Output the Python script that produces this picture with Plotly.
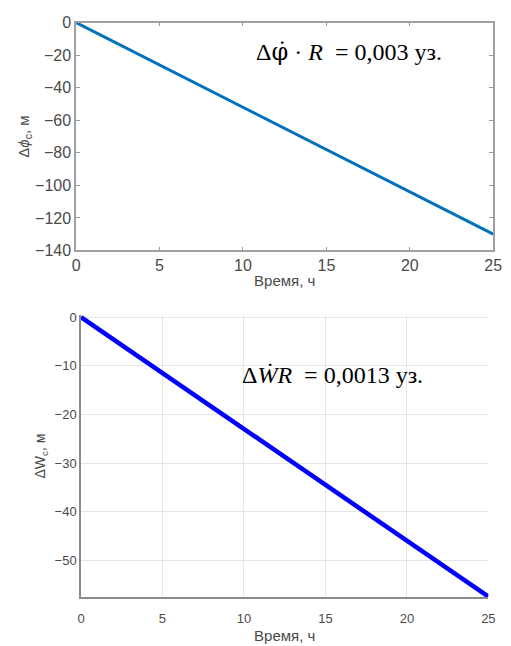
import plotly.graph_objects as go

# Time axis, hours
hours = [0, 25]
# Position error from the latitude-rate error, metres
dphi_m = [0, -130]
# Position error from the W-rate error, metres
dw_m = [0, -57.4]

top_ticks = [0, -20, -40, -60, -80, -100, -120, -140]
bot_ticks = [0, -10, -20, -30, -40, -50]
x_ticks = [0, 5, 10, 15, 20, 25]

W, H = 511, 646

def px_x(a, b):
    return [a / W, b / W]

def px_y(top, bottom):
    return [1 - bottom / H, 1 - top / H]

fig = go.Figure()
fig.add_trace(go.Scatter(x=hours, y=dphi_m, mode="lines",
                         line=dict(color="#0072BD", width=3),
                         xaxis="x", yaxis="y", showlegend=False))
fig.add_trace(go.Scatter(x=hours, y=dw_m, mode="lines",
                         line=dict(color="#0000FF", width=4.5),
                         xaxis="x2", yaxis="y2", showlegend=False))

sans = "Liberation Sans, Arial, sans-serif"
serif = "Liberation Serif, Times New Roman, serif"
tick_col = "#4a4a4a"

fig.update_layout(
    width=W, height=H,
    margin=dict(l=0, r=0, t=0, b=0),
    plot_bgcolor="white", paper_bgcolor="white",
    font=dict(family=sans, color=tick_col),
    xaxis=dict(domain=px_x(74, 502), anchor="y", range=[0, 25],
               tickvals=x_ticks, ticks="inside", ticklen=4, tickcolor="#999",
               showline=True, linecolor="#a0a0a0", linewidth=1.5, mirror="ticks",
               showgrid=False, zeroline=False, tickfont=dict(size=16),
               title=dict(text="Время, ч", font=dict(size=15), standoff=2)),
    yaxis=dict(domain=px_y(15, 249), anchor="x", range=[-140, 0],
               tickvals=top_ticks, ticks="inside", ticklen=4, tickcolor="#999",
               showline=True, linecolor="#a0a0a0", linewidth=1.5, mirror="ticks",
               showgrid=False, zeroline=False, tickfont=dict(size=16),
               title=dict(text="Δ<i>ϕ</i><sub>c</sub>, м", font=dict(size=15), standoff=2)),
    xaxis2=dict(domain=px_x(79, 497), anchor="y2", range=[0, 25],
                tickvals=x_ticks, ticks="", showline=True, linecolor="#8a8a8a",
                linewidth=1.5, showgrid=True, gridcolor="#e6e6e6", gridwidth=1,
                zeroline=False, tickfont=dict(size=13), ticklabelstandoff=9,
                title=dict(text="Время, ч", font=dict(size=15), standoff=5)),
    yaxis2=dict(domain=px_y(315.5, 605), anchor="x2", range=[-57.5, 0.4],
                tickvals=bot_ticks, ticks="", showline=True, linecolor="#8a8a8a",
                linewidth=1.5, showgrid=True, gridcolor="#e6e6e6", gridwidth=1,
                zeroline=False, tickfont=dict(size=13),
                title=dict(text="ΔW<sub>c</sub>, м", font=dict(size=14), standoff=6)),
    annotations=[
        dict(text="Δ<span style=\"font-family:'DejaVu Serif'\">φ̇</span> · <i>R</i>  = 0,003 уз.",
             xref="paper", yref="paper",
             x=257 / W, y=1 - 45 / H, xanchor="left", yanchor="middle",
             showarrow=False, font=dict(family=serif, size=24, color="black")),
        dict(text="Δ<i>ẆR</i>  = 0,0013 уз.", xref="paper", yref="paper",
             x=242 / W, y=1 - 377 / H, xanchor="left", yanchor="middle",
             showarrow=False, font=dict(family=serif, size=24, color="black")),
    ],
)

fig.write_html("out.html")
